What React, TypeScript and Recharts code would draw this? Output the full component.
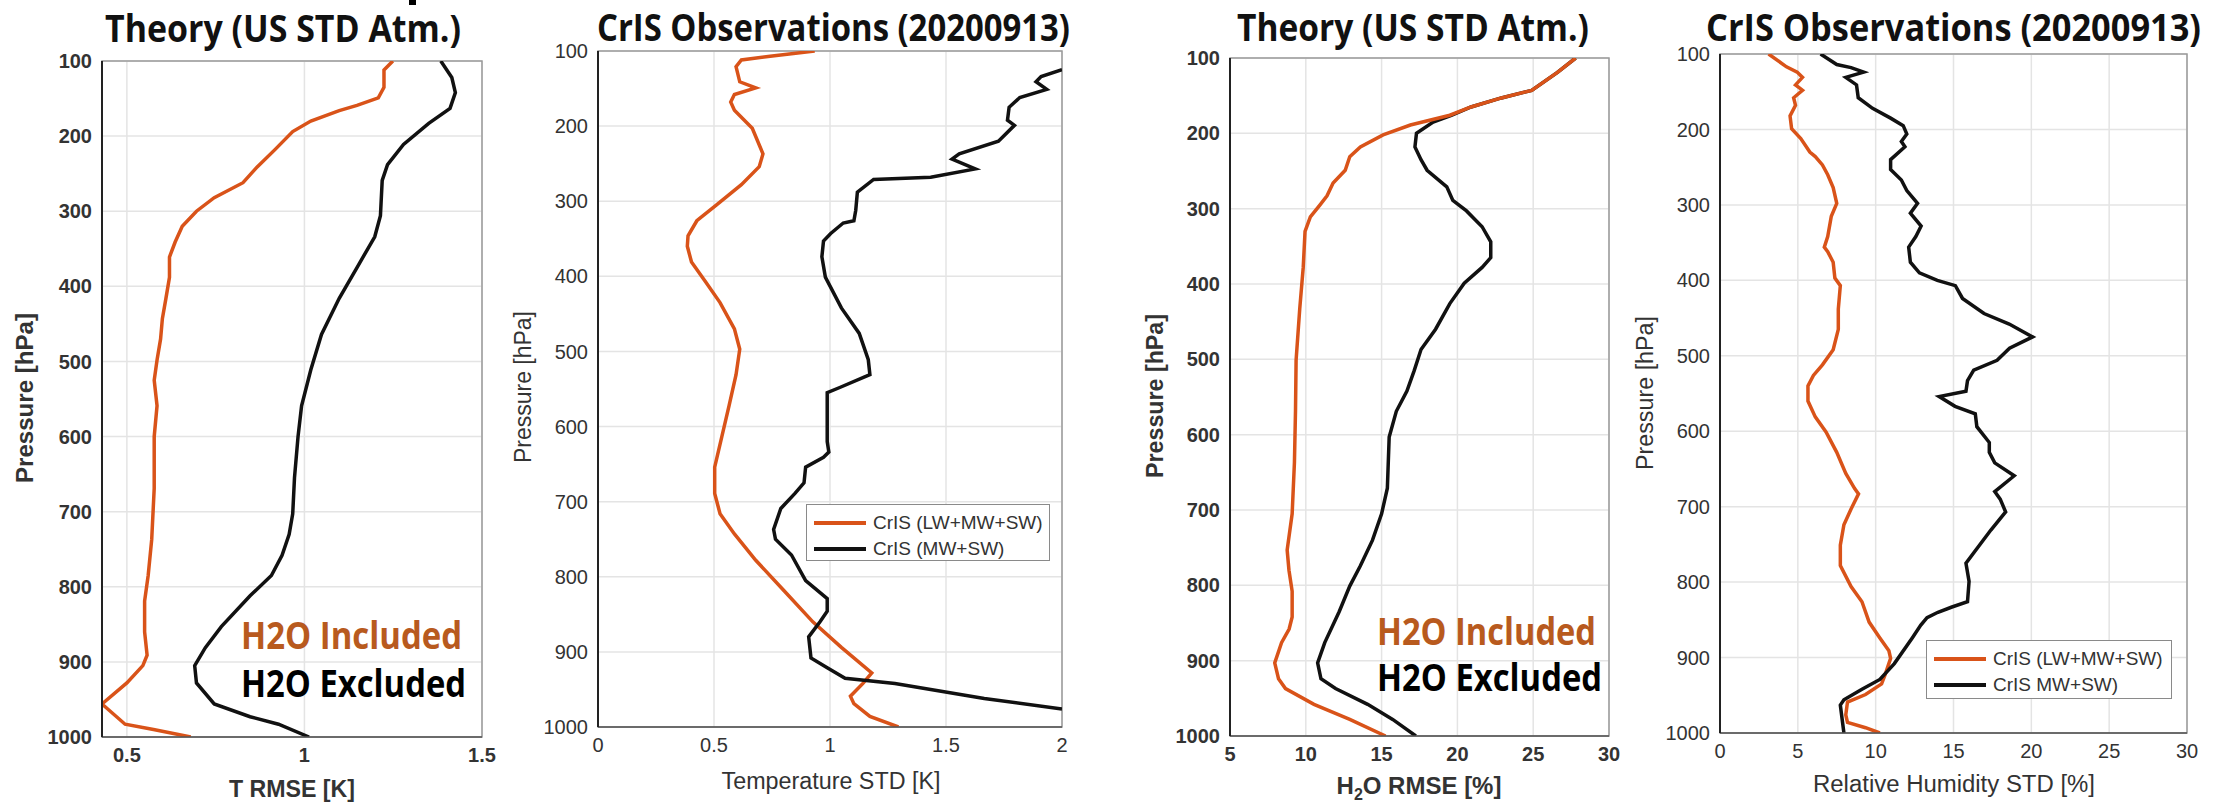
import React from 'react';
import { LineChart, Line, XAxis, YAxis, CartesianGrid, ReferenceArea, Legend } from 'recharts';

const pressureTicks = [100, 200, 300, 400, 500, 600, 700, 800, 900, 1000];

// Panel 1: theory, temperature RMSE [K]
const tIncPres = [100, 112, 135, 149, 159, 166, 180, 194, 218, 241, 262, 282, 300, 320, 341, 361, 388, 416, 443, 470, 498, 525, 559, 600, 669, 737, 785, 819, 860, 891, 905, 928, 956, 983, 990, 1000];
const tIncRmse = [1.249, 1.224, 1.224, 1.208, 1.148, 1.098, 1.018, 0.967, 0.917, 0.867, 0.827, 0.746, 0.696, 0.656, 0.636, 0.62, 0.62, 0.61, 0.6, 0.595, 0.585, 0.577, 0.585, 0.577, 0.577, 0.57, 0.56, 0.55, 0.55, 0.557, 0.545, 0.5, 0.43, 0.495, 0.575, 0.68];
const tExcPres = [100, 122, 142, 163, 183, 211, 238, 259, 306, 334, 375, 416, 464, 511, 559, 600, 655, 703, 730, 758, 785, 812, 853, 881, 905, 928, 956, 973, 983, 1000];
const tExcRmse = [1.384, 1.415, 1.425, 1.41, 1.35, 1.279, 1.234, 1.219, 1.214, 1.198, 1.148, 1.098, 1.048, 1.018, 0.992, 0.982, 0.972, 0.967, 0.957, 0.937, 0.907, 0.847, 0.766, 0.721, 0.691, 0.696, 0.746, 0.847, 0.927, 1.013];
const tRmseTicks = [0.5, 1, 1.5];

// Panel 2: CrIS observations, temperature STD [K]
const tAllPres = [100, 107, 112, 121, 141, 149, 158, 168, 179, 203, 237, 254, 278, 305, 326, 346, 360, 381, 408, 435, 470, 497, 531, 572, 613, 654, 689, 716, 743, 778, 819, 860, 894, 928, 942, 959, 969, 986, 1000];
const tAllStd = [0.934, 0.742, 0.618, 0.595, 0.611, 0.68, 0.588, 0.572, 0.588, 0.665, 0.711, 0.695, 0.618, 0.511, 0.426, 0.388, 0.385, 0.403, 0.465, 0.526, 0.588, 0.611, 0.595, 0.565, 0.534, 0.503, 0.503, 0.526, 0.588, 0.68, 0.803, 0.926, 1.049, 1.18, 1.142, 1.088, 1.103, 1.172, 1.295];
const tMwPres = [125, 134, 141, 151, 162, 175, 192, 199, 220, 237, 244, 257, 268, 271, 288, 312, 326, 329, 343, 353, 374, 401, 442, 476, 511, 531, 548, 555, 620, 634, 641, 654, 675, 689, 709, 737, 750, 771, 805, 829, 846, 860, 880, 908, 921, 935, 942, 962, 976];
const tMwStd = [2.0, 1.91, 1.888, 1.934, 1.818, 1.772, 1.765, 1.795, 1.726, 1.557, 1.526, 1.626, 1.434, 1.188, 1.118, 1.111, 1.103, 1.057, 1.003, 0.972, 0.965, 0.98, 1.049, 1.126, 1.165, 1.172, 1.042, 0.988, 0.988, 0.995, 0.972, 0.895, 0.888, 0.849, 0.788, 0.757, 0.765, 0.834, 0.895, 0.988, 0.988, 0.957, 0.908, 0.918, 0.988, 1.065, 1.28, 1.665, 2.0];
const tStdTicks = [0, 0.5, 1, 1.5, 2];

// Panel 3: theory, H2O RMSE [%]
const qIncPres = [100, 119, 143, 153, 165, 176, 189, 202, 218, 231, 249, 266, 283, 296, 311, 330, 378, 433, 501, 569, 637, 705, 753, 780, 808, 842, 858, 876, 903, 924, 937, 958, 978, 1000];
const qIncRmse = [27.8, 26.6, 24.9, 22.9, 20.9, 19.5, 16.9, 15.1, 13.6, 12.9, 12.6, 11.8, 11.4, 10.9, 10.3, 9.95, 9.83, 9.6, 9.36, 9.32, 9.25, 9.1, 8.77, 8.89, 9.1, 9.1, 8.9, 8.4, 7.95, 8.2, 8.66, 10.54, 12.9, 15.26];
const qExcPres = [100, 119, 143, 153, 165, 176, 185, 200, 218, 235, 249, 271, 289, 303, 324, 344, 365, 378, 399, 426, 460, 487, 515, 542, 569, 603, 671, 705, 740, 774, 801, 835, 876, 903, 924, 937, 958, 978, 1000];
const qExcRmse = [27.8, 26.6, 24.9, 22.9, 20.9, 19.6, 18.4, 17.3, 17.2, 17.6, 18.0, 19.3, 19.7, 20.6, 21.63, 22.2, 22.2, 21.63, 20.45, 19.5, 18.56, 17.6, 17.15, 16.67, 15.97, 15.5, 15.38, 15.0, 14.4, 13.6, 12.9, 12.2, 11.25, 10.78, 11.0, 11.96, 14.08, 15.73, 17.26];
const qRmseTicks = [5, 10, 15, 20, 25, 30];

// Panel 4: CrIS observations, relative humidity STD [%]
const rhAllPres = [100, 117, 124, 131, 141, 148, 158, 168, 182, 199, 212, 230, 236, 247, 260, 277, 298, 315, 342, 356, 362, 376, 397, 407, 438, 465, 492, 512, 526, 540, 560, 581, 601, 628, 656, 676, 683, 703, 724, 751, 778, 806, 826, 853, 874, 891, 901, 922, 935, 949, 959, 976, 986, 993, 1000];
const rhAllStd = [3.12, 4.27, 4.96, 5.3, 4.85, 5.3, 4.73, 4.85, 4.5, 4.6, 5.19, 5.77, 6.12, 6.58, 6.92, 7.27, 7.5, 7.15, 6.92, 6.7, 6.92, 7.27, 7.38, 7.73, 7.6, 7.6, 7.27, 6.58, 6.0, 5.65, 5.65, 6.12, 6.81, 7.5, 8.08, 8.65, 8.9, 8.42, 7.96, 7.73, 7.73, 8.42, 9.12, 9.58, 10.27, 10.85, 10.96, 10.62, 10.38, 9.35, 8.19, 8.08, 8.19, 9.35, 10.27];
const rhMwPres = [100, 114, 118, 124, 131, 141, 158, 172, 185, 195, 206, 216, 223, 240, 253, 267, 281, 298, 311, 328, 342, 356, 376, 390, 400, 407, 424, 444, 458, 475, 490, 506, 519, 533, 547, 554, 567, 577, 594, 615, 628, 642, 659, 680, 690, 707, 731, 775, 799, 826, 833, 840, 847, 857, 874, 908, 929, 942, 956, 963, 1000];
const rhMwStd = [6.46, 7.5, 8.42, 9.23, 8.08, 8.77, 8.88, 9.8, 10.96, 11.77, 12.0, 11.65, 11.88, 10.96, 10.96, 11.65, 12.0, 12.69, 12.23, 12.92, 12.58, 12.12, 12.23, 12.81, 13.96, 15.12, 15.58, 16.96, 18.58, 20.08, 18.6, 17.8, 16.3, 15.9, 15.8, 14.08, 15.1, 16.4, 16.5, 17.3, 17.3, 17.65, 18.9, 17.65, 18.0, 18.35, 17.4, 15.8, 16.0, 15.9, 14.9, 14.0, 13.3, 12.9, 12.35, 11.2, 10.27, 9.12, 7.96, 7.73, 7.96];
const rhTicks = [0, 5, 10, 15, 20, 25, 30];

const ORANGE = '#D95319';
const BLACK = '#111111';
const LABEL_ORANGE = '#b85a1e';
const SANS = '"Liberation Sans", Arial, sans-serif';
const TITLE_FONT = '"Open Sans", "Noto Sans", sans-serif';

const toRows = (pres: number[], vals: number[]) => pres.map((p, i) => ({ p, v: vals[i] }));

type Series = { name: string; rows: { p: number; v: number }[]; color: string };
type Plot = { l: number; t: number; r: number; b: number };

const ML = 70;
const MT = 20;
const MR = 20;
const XH = 40;
const MB = 10;

function ProfilePanel({ plot, xDomain, xTicks, series, bold, legend }: {
  plot: Plot;
  xDomain: [number, number];
  xTicks: number[];
  series: Series[];
  bold: boolean;
  legend?: { x: number; y: number; w: number; h: number };
}) {
  const width = plot.r - plot.l + ML + MR;
  const height = plot.b - plot.t + MT + XH + MB;
  const tickStyle = { fill: '#333', fontSize: 20, fontFamily: SANS, fontWeight: bold ? 700 : 400 };
  return (
    <div style={{ position: 'absolute', left: plot.l - ML, top: plot.t - MT }}>
      <LineChart layout="vertical" width={width} height={height} margin={{ top: MT, right: MR, bottom: MB, left: 0 }}>
        <CartesianGrid stroke="#e4e4e4" strokeWidth={1.5} />
        <XAxis
          type="number"
          domain={xDomain}
          ticks={xTicks}
          allowDataOverflow
          height={XH}
          tickSize={0}
          tickMargin={11}
          axisLine={{ stroke: '#555', strokeWidth: 1.5 }}
          tick={tickStyle}
        />
        {/* inward tick marks along the top edge */}
        <XAxis
          xAxisId="top"
          orientation="top"
          mirror
          type="number"
          domain={xDomain}
          ticks={xTicks}
          allowDataOverflow
          height={0}
          tickSize={6}
          tick={false}
          axisLine={false}
          tickLine={{ stroke: '#333', strokeWidth: 1.5 }}
        />
        <YAxis
          type="number"
          dataKey="p"
          domain={[100, 1000]}
          ticks={pressureTicks}
          allowDataOverflow
          width={ML}
          tickSize={0}
          tickMargin={10}
          axisLine={{ stroke: '#222', strokeWidth: 2 }}
          tick={tickStyle}
        />
        {/* inward tick marks along the right edge */}
        <YAxis
          yAxisId="right"
          orientation="right"
          mirror
          type="number"
          dataKey="p"
          domain={[100, 1000]}
          ticks={pressureTicks}
          allowDataOverflow
          width={0}
          tickSize={6}
          tick={false}
          axisLine={false}
          tickLine={{ stroke: '#333', strokeWidth: 1.5 }}
        />
        <ReferenceArea x1={xDomain[0]} x2={xDomain[1]} y1={100} y2={1000} fill="none" stroke="#9a9a9a" strokeWidth={1.5} />
        {series.map((s) => (
          <Line
            key={s.name}
            name={s.name}
            data={s.rows}
            dataKey="v"
            stroke={s.color}
            strokeWidth={3.5}
            dot={false}
            activeDot={false}
            isAnimationActive={false}
          />
        ))}
        {legend && (
          <Legend
            layout="vertical"
            align="center"
            verticalAlign="middle"
            wrapperStyle={{ left: legend.x, top: legend.y, width: legend.w, height: legend.h }}
            content={(props: any) => (
              <div style={{ width: legend.w, height: legend.h, boxSizing: 'border-box', border: '1.5px solid #8a8a8a', background: '#fff', paddingTop: 5 }}>
                {(props.payload || []).map((entry: any) => (
                  <div key={entry.value} style={{ display: 'flex', alignItems: 'center', height: 26 }}>
                    <div style={{ width: 52, height: 4, background: entry.color, marginLeft: 7, marginRight: 7 }} />
                    <span style={{ fontFamily: SANS, fontSize: 19, color: '#333', whiteSpace: 'nowrap' }}>{entry.value}</span>
                  </div>
                ))}
              </div>
            )}
          />
        )}
      </LineChart>
    </div>
  );
}

function VLabel({ x, y, len, text, bold }: { x: number; y: number; len: number; text: string; bold?: boolean }) {
  return (
    <text x={x} y={y} transform={`rotate(-90 ${x} ${y})`} textAnchor="middle" dominantBaseline="central"
      fontFamily={SANS} fontSize={23} fontWeight={bold ? 700 : 400} fill="#333" textLength={len} lengthAdjust="spacingAndGlyphs">
      {text}
    </text>
  );
}

export default function App() {
  return (
    <div style={{ position: 'absolute', left: 0, top: 0, width: 2213, height: 806, background: '#fff', overflow: 'hidden' }}>
      <ProfilePanel
        plot={{ l: 102, t: 61, r: 482, b: 737 }}
        xDomain={[0.43, 1.5]}
        xTicks={tRmseTicks}
        bold
        series={[
          { name: 'H2O Excluded', rows: toRows(tExcPres, tExcRmse), color: BLACK },
          { name: 'H2O Included', rows: toRows(tIncPres, tIncRmse), color: ORANGE },
        ]}
      />
      <ProfilePanel
        plot={{ l: 598, t: 51, r: 1062, b: 727 }}
        xDomain={[0, 2]}
        xTicks={tStdTicks}
        bold={false}
        series={[
          { name: 'CrIS (LW+MW+SW)', rows: toRows(tAllPres, tAllStd), color: ORANGE },
          { name: 'CrIS (MW+SW)', rows: toRows(tMwPres, tMwStd), color: BLACK },
        ]}
        legend={{ x: 278, y: 473, w: 244, h: 57 }}
      />
      <ProfilePanel
        plot={{ l: 1230, t: 58, r: 1609, b: 736 }}
        xDomain={[5, 30]}
        xTicks={qRmseTicks}
        bold
        series={[
          { name: 'H2O Excluded', rows: toRows(qExcPres, qExcRmse), color: BLACK },
          { name: 'H2O Included', rows: toRows(qIncPres, qIncRmse), color: ORANGE },
        ]}
      />
      <ProfilePanel
        plot={{ l: 1720, t: 54, r: 2187, b: 733 }}
        xDomain={[0, 30]}
        xTicks={rhTicks}
        bold={false}
        series={[
          { name: 'CrIS (LW+MW+SW)', rows: toRows(rhAllPres, rhAllStd), color: ORANGE },
          { name: 'CrIS MW+SW)', rows: toRows(rhMwPres, rhMwStd), color: BLACK },
        ]}
        legend={{ x: 276, y: 606, w: 246, h: 59 }}
      />
      <svg width={2213} height={806} style={{ position: 'absolute', left: 0, top: 0, pointerEvents: 'none' }}>
        <rect x={409} y={0} width={7} height={5} fill="#000" />
        {/* titles */}
        <text x={105} y={42} fontFamily={TITLE_FONT} fontWeight={700} fontSize={37} fill="#111" textLength={356} lengthAdjust="spacingAndGlyphs">Theory (US STD Atm.)</text>
        <text x={597} y={41} fontFamily={TITLE_FONT} fontWeight={700} fontSize={37} fill="#111" textLength={473} lengthAdjust="spacingAndGlyphs">CrIS Observations (20200913)</text>
        <text x={1237} y={41} fontFamily={TITLE_FONT} fontWeight={700} fontSize={37} fill="#111" textLength={352} lengthAdjust="spacingAndGlyphs">Theory (US STD Atm.)</text>
        <text x={1706} y={41} fontFamily={TITLE_FONT} fontWeight={700} fontSize={37} fill="#111" textLength={495} lengthAdjust="spacingAndGlyphs">CrIS Observations (20200913)</text>
        {/* y axis labels */}
        <VLabel x={25} y={398} len={170} text="Pressure [hPa]" bold />
        <VLabel x={523} y={387} len={152} text="Pressure [hPa]" />
        <VLabel x={1155} y={396} len={164} text="Pressure [hPa]" bold />
        <VLabel x={1645} y={393} len={154} text="Pressure [hPa]" />
        {/* x axis labels */}
        <text x={292} y={797} textAnchor="middle" fontFamily={SANS} fontSize={24} fontWeight={700} fill="#333" textLength={126} lengthAdjust="spacingAndGlyphs">T RMSE [K]</text>
        <text x={831} y={789} textAnchor="middle" fontFamily={SANS} fontSize={23} fill="#333" textLength={219} lengthAdjust="spacingAndGlyphs">Temperature STD [K]</text>
        <text x={1419} y={794} textAnchor="middle" fontFamily={SANS} fontSize={24} fontWeight={700} fill="#333">
          H<tspan fontSize={16} dy={6}>2</tspan><tspan dy={-6}>O RMSE [%]</tspan>
        </text>
        <text x={1954} y={792} textAnchor="middle" fontFamily={SANS} fontSize={23} fill="#333" textLength={282} lengthAdjust="spacingAndGlyphs">Relative Humidity STD [%]</text>
        {/* annotations */}
        <text x={241} y={649} fontFamily={TITLE_FONT} fontWeight={700} fontSize={37} fill={LABEL_ORANGE} textLength={221} lengthAdjust="spacingAndGlyphs">H2O Included</text>
        <text x={241} y={697} fontFamily={TITLE_FONT} fontWeight={700} fontSize={37} fill="#000" textLength={225} lengthAdjust="spacingAndGlyphs">H2O Excluded</text>
        <text x={1377} y={645} fontFamily={TITLE_FONT} fontWeight={700} fontSize={37} fill={LABEL_ORANGE} textLength={219} lengthAdjust="spacingAndGlyphs">H2O Included</text>
        <text x={1377} y={691} fontFamily={TITLE_FONT} fontWeight={700} fontSize={37} fill="#000" textLength={225} lengthAdjust="spacingAndGlyphs">H2O Excluded</text>
      </svg>
    </div>
  );
}
